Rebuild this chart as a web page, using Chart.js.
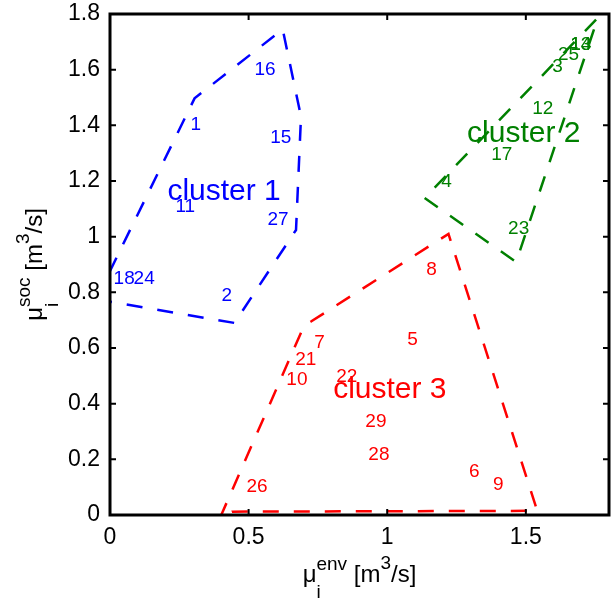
<!DOCTYPE html>
<html>
<head>
<meta charset="utf-8">
<script src="https://cdn.jsdelivr.net/npm/chart.js@4.4.0/dist/chart.umd.min.js"></script>
<style>
  html, body { margin: 0; padding: 0; background: #fff; }
  #wrap { width: 613px; height: 603px; }
</style>
</head>
<body>
<div id="wrap"><canvas id="chart" width="613" height="603"></canvas></div>
<script>
const FONT = '"Liberation Sans", Arial, Helvetica, sans-serif';

const xTicks = [0, 0.5, 1, 1.5];
const yTicks = [0, 0.2, 0.4, 0.6, 0.8, 1, 1.2, 1.4, 1.6, 1.8];

// numbered sites (text anchored left/middle at the site)
const siteIds     = [1, 2, 11, 15, 16, 18, 24, 27,
                     3, 4, 12, 13, 14, 17, 23, 25,
                     5, 6, 7, 8, 9, 10, 21, 22, 26, 28, 29];
const siteX       = [0.290, 0.402, 0.236, 0.578, 0.521, 0.013, 0.085, 0.568,
                     1.595, 1.195, 1.523, 1.660, 1.660, 1.375, 1.436, 1.616,
                     1.072, 1.295, 0.737, 1.141, 1.382, 0.636, 0.668, 0.816, 0.492, 0.932, 0.921];
const siteY       = [1.401, 0.787, 1.108, 1.357, 1.599, 0.850, 0.850, 1.060,
                     1.611, 1.198, 1.461, 1.689, 1.689, 1.294, 1.027, 1.653,
                     0.629, 0.156, 0.619, 0.880, 0.108, 0.485, 0.557, 0.497, 0.102, 0.216, 0.335];
const siteCluster = [0, 0, 0, 0, 0, 0, 0, 0,
                     1, 1, 1, 1, 1, 1, 1, 1,
                     2, 2, 2, 2, 2, 2, 2, 2, 2, 2, 2];

const clusterNames  = ['cluster 1', 'cluster 2', 'cluster 3'];
const clusterColors = ['#0000ff', '#008000', '#ff0000'];
const clusterLabelX = [0.207, 1.288, 0.805];
const clusterLabelY = [1.162, 1.371, 0.449];

// dashed outlines around each cluster
const hull1X = [-0.05, 0.449, 0.671, 0.689, 0.623, 0.305, -0.05];
const hull1Y = [0.775, 0.690, 1.024, 1.431, 1.745, 1.497, 0.775];
const hull2X = [1.135, 1.465, 1.760, 1.135];
const hull2Y = [1.139, 0.909, 1.787, 1.139];
const hull3X = [0.397, 0.700, 0.725, 1.221, 1.541, 0.440, 0.397];
const hull3Y = [-0.010, 0.680, 0.695, 1.010, 0.015, 0.012, -0.010];

const toPoints = (xs, ys) => xs.map((v, i) => ({x: v, y: ys[i]}));

const hullSet = (xs, ys, color) => ({
    data: toPoints(xs, ys),
    showLine: true,
    borderColor: color,
    borderWidth: 2.5,
    borderDash: [16, 15],
    pointRadius: 0,
    fill: false,
    tension: 0
});

// draws μ with stacked sub/superscript followed by " [m³/s]"
function drawAxisTitle(ctx, sup, cx, cy, rotate) {
    const main = 24, small = 19;
    const parts = [
        {t: 'μ', size: main, dy: 0},
        {t: 'i', size: small, dy: 16, stack: true},
        {t: sup, size: small, dy: -12},
        {t: ' [m', size: main, dy: 0},
        {t: '3', size: small, dy: -13},
        {t: '/s]', size: main, dy: 0}
    ];
    let total = 0;
    parts.forEach(p => {
        ctx.font = `${p.size}px ${FONT}`;
        p.w = ctx.measureText(p.t).width;
        if (!p.stack) total += p.w;
    });
    ctx.save();
    ctx.translate(cx, cy);
    if (rotate) ctx.rotate(-Math.PI / 2);
    ctx.fillStyle = '#000';
    ctx.textBaseline = 'alphabetic';
    ctx.textAlign = 'left';
    let px = -total / 2;
    parts.forEach(p => {
        ctx.font = `${p.size}px ${FONT}`;
        ctx.fillText(p.t, px, p.dy);
        if (!p.stack) px += p.w;
    });
    ctx.restore();
}

const annotate = {
    id: 'annotate',
    afterDatasetsDraw(chart) {
        const {ctx, scales: {x, y}} = chart;
        ctx.save();
        ctx.textAlign = 'left';
        ctx.textBaseline = 'middle';
        ctx.font = `19px ${FONT}`;
        siteIds.forEach((id, i) => {
            ctx.fillStyle = clusterColors[siteCluster[i]];
            ctx.fillText(String(id), x.getPixelForValue(siteX[i]), y.getPixelForValue(siteY[i]));
        });
        ctx.font = `30px ${FONT}`;
        clusterNames.forEach((name, i) => {
            ctx.fillStyle = clusterColors[i];
            ctx.fillText(name, x.getPixelForValue(clusterLabelX[i]), y.getPixelForValue(clusterLabelY[i]));
        });
        ctx.restore();
    }
};

// box with inward tick marks on all four sides, plus axis titles
const frame = {
    id: 'frame',
    afterDraw(chart) {
        const {ctx, chartArea: a, scales: {x, y}} = chart;
        const len = 6;
        ctx.save();
        ctx.strokeStyle = '#000';
        ctx.lineWidth = 2;
        ctx.beginPath();
        xTicks.forEach(v => {
            const px = x.getPixelForValue(v);
            ctx.moveTo(px, a.bottom); ctx.lineTo(px, a.bottom - len);
            ctx.moveTo(px, a.top); ctx.lineTo(px, a.top + len);
        });
        yTicks.forEach(v => {
            const py = y.getPixelForValue(v);
            ctx.moveTo(a.left, py); ctx.lineTo(a.left + len, py);
            ctx.moveTo(a.right, py); ctx.lineTo(a.right - len, py);
        });
        ctx.stroke();
        ctx.lineWidth = 3;
        ctx.strokeRect(a.left, a.top, a.right - a.left, a.bottom - a.top);
        ctx.restore();

        drawAxisTitle(ctx, 'env', (a.left + a.right) / 2, 582, false);
        drawAxisTitle(ctx, 'soc', 42, (a.top + a.bottom) / 2, true);
    }
};

new Chart(document.getElementById('chart'), {
    type: 'scatter',
    data: {
        datasets: [
            hullSet(hull1X, hull1Y, clusterColors[0]),
            hullSet(hull2X, hull2Y, clusterColors[1]),
            hullSet(hull3X, hull3Y, clusterColors[2])
        ]
    },
    options: {
        responsive: false,
        animation: false,
        layout: {padding: {left: 0, right: 4, top: 14, bottom: 0}},
        plugins: {
            legend: {display: false},
            tooltip: {enabled: false}
        },
        scales: {
            x: {
                type: 'linear',
                position: 'bottom',
                min: 0,
                max: 1.8,
                afterBuildTicks: s => { s.ticks = xTicks.map(v => ({value: v})); },
                afterFit: s => { s.height = 88; s.paddingLeft = 0; s.paddingRight = 0; },
                grid: {display: false, drawTicks: false},
                border: {display: false},
                ticks: {
                    color: '#000',
                    font: {family: FONT, size: 23},
                    padding: 9,
                    maxRotation: 0,
                    callback: v => String(v)
                }
            },
            y: {
                type: 'linear',
                min: 0,
                max: 1.8,
                afterBuildTicks: s => { s.ticks = yTicks.map(v => ({value: v})); },
                afterFit: s => { s.width = 110; s.paddingTop = 0; s.paddingBottom = 0; },
                grid: {display: false, drawTicks: false},
                border: {display: false},
                ticks: {
                    color: '#000',
                    font: {family: FONT, size: 23},
                    padding: 10,
                    callback: v => String(v)
                }
            }
        }
    },
    plugins: [annotate, frame]
});
</script>
</body>
</html>
